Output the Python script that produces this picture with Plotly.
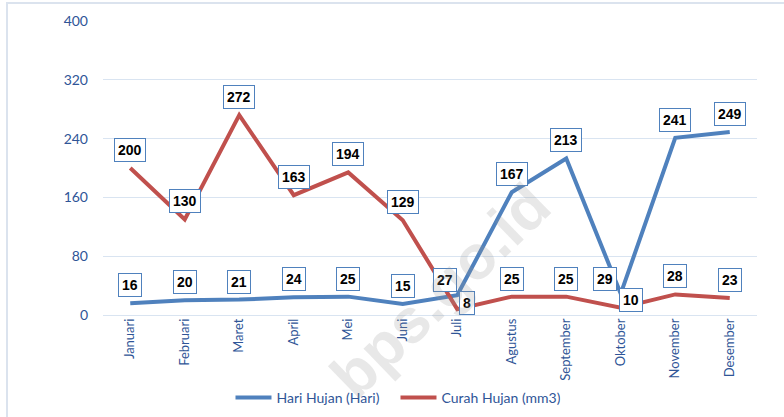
import plotly.graph_objects as go

months = ["Januari", "Februari", "Maret", "April", "Mei", "Juni", "Juli",
          "Agustus", "September", "Oktober", "November", "Desember"]
hari_hujan = [16, 20, 21, 24, 25, 15, 27, 167, 213, 29, 241, 249]
curah_hujan = [200, 130, 272, 163, 194, 129, 8, 25, 25, 10, 28, 23]
y_ticks = [0, 80, 160, 240, 320, 400]

BLUE = "#4f81bd"
RED = "#c0504d"
AXIS_TXT = "#2f5597"
FONT = "Lato, 'Open Sans', sans-serif"

# label offsets (xshift, yshift) in px, default above point
default_off = (0, 18)
blue_off = {6: (-12, 15), 9: (-16, 15)}
red_off = {6: (10, 6), 9: (10, 8)}

fig = go.Figure()
fig.add_trace(go.Scatter(x=months, y=hari_hujan, mode="lines", name="Hari Hujan (Hari)",
                         line=dict(color=BLUE, width=4)))
fig.add_trace(go.Scatter(x=months, y=curah_hujan, mode="lines", name="Curah Hujan (mm3)",
                         line=dict(color=RED, width=4)))

annotations = []
for series, offs in ((hari_hujan, blue_off), (curah_hujan, red_off)):
    for i, v in enumerate(series):
        xs, ys = offs.get(i, default_off)
        annotations.append(dict(
            x=months[i], y=v, xref="x", yref="y", text=f"<b>{v}</b>",
            showarrow=False, xshift=xs, yshift=ys,
            font=dict(family="'Liberation Sans', Arial, sans-serif", size=14, color="#000000"),
            bgcolor="#ffffff", bordercolor=BLUE, borderwidth=1, borderpad=3,
        ))

# watermark
annotations.append(dict(
    x=0.515, y=0.085, xref="paper", yref="paper", text="<b>bps.go.id</b>",
    showarrow=False, textangle=-44, xanchor="center", yanchor="middle",
    font=dict(family="'Liberation Sans', Arial, sans-serif", size=62, color="rgba(150,150,150,0.22)"),
))

fig.update_layout(
    width=784, height=417,
    margin=dict(l=103, r=27, t=21, b=102, autoexpand=False),
    paper_bgcolor="#ffffff", plot_bgcolor="#ffffff",
    font=dict(family=FONT, color=AXIS_TXT),
    showlegend=True,
    legend=dict(orientation="h", xref="container", yref="container", x=0.294, y=0.046,
                xanchor="left", yanchor="middle", font=dict(size=14, color=AXIS_TXT),
                itemwidth=36, entrywidth=114, tracegroupgap=0, bgcolor="rgba(0,0,0,0)"),
    xaxis=dict(type="category", categoryorder="array", categoryarray=months,
               range=[-0.5, len(months) - 0.5],
               tickangle=-90, tickfont=dict(size=13, color=AXIS_TXT),
               showgrid=False, showline=False, zeroline=False, ticks="", ticklen=0),
    yaxis=dict(range=[0, 400], tickvals=y_ticks, tickfont=dict(size=14, color=AXIS_TXT),
               showgrid=True, gridcolor="#d9e4f1", gridwidth=1, zeroline=True,
               zerolinecolor="#d9e4f1", zerolinewidth=1, showline=False, ticks="",
               ticklabelstandoff=14),
    annotations=annotations,
    shapes=[dict(type="rect", xref="paper", yref="paper", x0=-0.1468, x1=1.2,
                 y0=-0.5, y1=1.0612, line=dict(color="#dbe3ee", width=2), layer="below")],
)

fig.write_html("out.html", config={"displayModeBar": False},
               post_script="document.body.style.margin='0';")
